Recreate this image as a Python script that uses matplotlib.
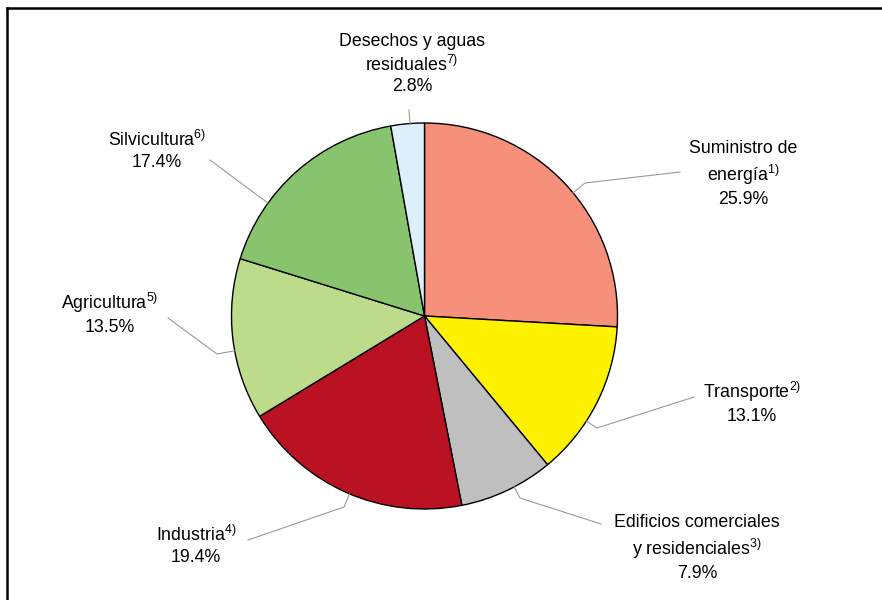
#!/usr/bin/env python3
"""
Pie chart: greenhouse gas emissions by sector (shares in %)
"""

import numpy as np
import matplotlib
matplotlib.use('Agg')
import matplotlib.pyplot as plt
from matplotlib import font_manager
from matplotlib.lines import Line2D

# --- data ---------------------------------------------------------------
sectors = ['Suministro de\nenergía', 'Transporte', 'Edificios comerciales\ny residenciales',
           'Industria', 'Agricultura', 'Silvicultura', 'Desechos y aguas\nresiduales']
notes = ['1)', '2)', '3)', '4)', '5)', '6)', '7)']
shares = [25.9, 13.1, 7.9, 19.4, 13.5, 17.4, 2.8]
colors = ['#F6907A', '#FFF200', '#BFBFBF', '#BA1222', '#BCDC8C', '#88C46E', '#DDEFFB']

# --- layout (pixels of the 882x600 image) ---------------------------------
W, H = 882, 600
cx, cy, R = 424.5, 316, 193
label_xy = [(743, 174), (752, 402), (697, 548), (196, 545), (110, 313), (157, 150), (412, 64)]
leader_elbow = [(585, 183), (597, 428), (520, 498), (344, 507), (217, 354), (257, 195), (409, 110)]
leader_end = [(680, 172), (694, 397), (601, 524), (248, 540), (168, 318), (210, 160), (409, 110)]


def to_data(px, py):
    return (px - cx) / R, (cy - py) / R


# narrow font if we have one, otherwise regular Liberation Sans
installed = {f.name for f in font_manager.fontManager.ttflist}
if 'Liberation Sans Narrow' in installed:
    family, fsize = 'Liberation Sans Narrow', 15
else:
    family, fsize = 'Liberation Sans', 12.8
plt.rcParams['font.family'] = [family, 'DejaVu Sans']
plt.rcParams['mathtext.fontset'] = 'custom'
plt.rcParams['mathtext.rm'] = family
plt.rcParams['mathtext.it'] = family

fig = plt.figure(figsize=(W / 100, H / 100), dpi=100)
ax = fig.add_axes([0, 0, 1, 1])

wedges, _ = ax.pie(shares, colors=colors, startangle=90, counterclock=False,
                   radius=1.0, center=(0, 0), frame=True,
                   wedgeprops=dict(edgecolor='black', linewidth=1.0))
ax.set_xlim(-cx / R, (W - cx) / R)
ax.set_ylim((cy - H) / R, cy / R)
ax.set_aspect('auto')
ax.axis('off')

for w, name, note, val, (lx, ly), (bx, by), (ex, ey) in zip(
        wedges, sectors, notes, shares, label_xy, leader_elbow, leader_end):
    # leader: from the pie edge (towards the elbow) to the elbow, then to the label
    x1, y1 = to_data(bx, by)
    ang = np.arctan2(y1, x1)
    x0, y0 = np.cos(ang), np.sin(ang)
    x2, y2 = to_data(ex, ey)
    ax.plot([x0, x1, x2], [y0, y1, y2], color='#9A9A9A', lw=0.8, zorder=1)

    text = name + '$^{' + note + '}$' + '\n' + f'{val:.1f}%'
    tx, ty = to_data(lx, ly)
    ax.text(tx, ty, text, ha='center', va='center', multialignment='center',
            fontsize=fsize, linespacing=1.3, color='black')

# outer frame (left and top edges only visible)
fig.add_artist(Line2D([7 / W, 7 / W], [0, 1 - 8 / H], transform=fig.transFigure,
                      color='black', lw=1.8))
fig.add_artist(Line2D([7 / W, 1], [1 - 8 / H, 1 - 8 / H], transform=fig.transFigure,
                      color='black', lw=1.8))

fig.savefig('out.png', dpi=100)
